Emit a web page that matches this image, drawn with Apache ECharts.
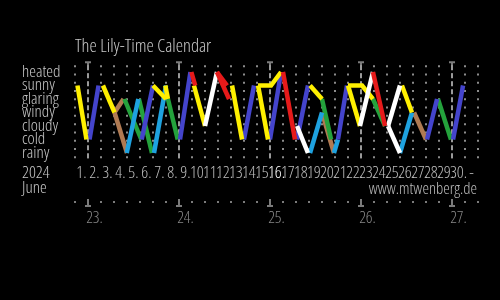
<!DOCTYPE html>
<html><head><meta charset="utf-8">
<script src="https://cdn.jsdelivr.net/npm/echarts@6/dist/echarts.min.js"></script>
<style>html,body{margin:0;padding:0;background:#000;}#c{width:500px;height:300px;}</style>
</head><body><div id="c"></div>
<script>
const chartTitle = 'The Lily-Time Calendar';
const yearLabel = '2024';
const monthLabel = 'June';
const creditLabel = 'www.mtwenberg.de';
const states = ['rainy','cold','cloudy','windy','glaring','sunny','heated'];
const dayLabels = ['1.','2.','3.','4.','5.','6.','7.','8.','9.','10.','11.','12.','13.','14.','15.','16.','17.','18.','19.','20.','21.','22.','23.','24.','25.','26.','27.','28.','29.','30.','-'];
const highlightDay = '16.';
const weekStartDays = [2, 9, 16, 23, 30];
const weekNumbers = [23, 24, 25, 26, 27];

// tracks: polylines of [time in days since June 1 00:00, weather state]
const sunTracks = [
  [[0.19,'sunny'],[0.88,'cold']],
  [[2.15,'sunny'],[3.04,'windy']],
  [[6.0,'sunny'],[7.0,'glaring']],
  [[6.95,'sunny'],[7.15,'glaring']],
  [[9.15,'sunny'],[10.0,'cloudy']],
  [[12.08,'sunny'],[12.85,'cold']],
  [[14.08,'sunny'],[14.85,'cold']],
  [[14.08,'sunny'],[15.08,'sunny'],[15.85,'heated']],
  [[18.08,'sunny'],[19.0,'glaring']],
  [[21.0,'sunny'],[21.92,'cloudy']],
  [[21.0,'sunny'],[22.08,'sunny'],[22.92,'glaring']],
  [[25.15,'sunny'],[25.92,'windy']]
];
const coldTracks = [
  [[1.12,'cold'],[1.81,'sunny']],
  [[5.13,'cold'],[6.0,'sunny']],
  [[8.08,'cold'],[8.88,'heated']],
  [[13.0,'cold'],[13.77,'sunny']],
  [[15.0,'cold'],[15.85,'heated']],
  [[17.08,'cold'],[17.92,'sunny']],
  [[20.23,'cold'],[20.92,'sunny']],
  [[27.08,'cold'],[27.85,'glaring']],
  [[29.08,'cold'],[29.85,'sunny']]
];
const heatTracks = [
  [[8.95,'heated'],[9.25,'sunny']],
  [[10.92,'heated'],[11.7,'sunny']],
  [[10.92,'heated'],[11.85,'glaring']],
  [[16.0,'heated'],[16.92,'cold']],
  [[22.92,'heated'],[23.85,'cloudy']]
];
const glareTracks = [
  [[10.0,'cloudy'],[10.92,'heated']],
  [[17.08,'cloudy'],[17.92,'rainy']],
  [[21.92,'cloudy'],[22.92,'heated']],
  [[24.08,'cloudy'],[25.0,'sunny']],
  [[24.08,'cloudy'],[25.0,'rainy']]
];
const windTracks = [
  [[3.8,'glaring'],[5.1,'cold']],
  [[4.92,'glaring'],[5.92,'rainy']],
  [[7.15,'glaring'],[7.9,'cold']],
  [[19.0,'glaring'],[19.7,'cold']],
  [[22.92,'glaring'],[23.85,'cloudy']],
  [[27.92,'glaring'],[28.92,'cold']]
];
const rainTracks = [
  [[3.98,'rainy'],[4.87,'glaring']],
  [[6.08,'rainy'],[7.0,'sunny']],
  [[18.08,'rainy'],[19.0,'windy']],
  [[19.92,'rainy'],[20.23,'cold']],
  [[25.0,'rainy'],[25.92,'windy']]
];
const cloudTracks = [
  [[3.04,'windy'],[3.73,'glaring']],
  [[3.04,'windy'],[4.0,'rainy']],
  [[19.0,'windy'],[19.92,'rainy']],
  [[26.08,'windy'],[27.0,'cold']]
];

const FONT = "'Open Sans', sans-serif";
const FW = '300 condensed';
const groups = [
  {tracks: cloudTracks, color: '#b07a52'},
  {tracks: windTracks, color: '#24a23c'},
  {tracks: rainTracks, color: '#1ea2e0'},
  {tracks: coldTracks, color: '#4444cc'},
  {tracks: sunTracks, color: '#fff000'},
  {tracks: glareTracks, color: '#ffffff'},
  {tracks: heatTracks, color: '#e61a1a'}
];

const series = [];
weekStartDays.forEach(d => {
  series.push({type:'line', xAxisIndex:0, yAxisIndex:1, silent:true, symbol:'none', animation:false,
    data:[[d-1, 6.5],[d-1, -0.5]], lineStyle:{color:'#9a9a9a', width:2, type:[5,3]}, z:1});
});
series.push({type:'scatter', xAxisIndex:0, yAxisIndex:1, silent:true, animation:false, clip:false,
  symbol:'path://M0,0H6V2H4V6H2V2H0Z', symbolSize:[6,6], symbolOffset:[0,-1],
  itemStyle:{color:'#9a9a9a'}, data: weekStartDays.map(d => [d-1, 6.5]), z:2});

groups.forEach(g => {
  g.tracks.forEach(tr => {
    series.push({type:'line', xAxisIndex:0, yAxisIndex:1, silent:true, animation:false,
      symbol:'none', showSymbol:false,
      data: tr.map(p => [p[0], states.indexOf(p[1])]),
      lineStyle:{color:g.color, width:4.5, cap:'butt', join:'miter'}, z:5});
  });
});

const dotDays = [];
for (let i = 0; i <= 31; i++) if (!weekStartDays.includes(i+1)) dotDays.push([i, 0.5]);
series.push({type:'scatter', xAxisIndex:2, yAxisIndex:2, silent:true, animation:false, clip:false,
  symbol:'rect', symbolSize:2, itemStyle:{color:'#9a9a9a'}, data: dotDays});
series.push({type:'scatter', xAxisIndex:2, yAxisIndex:2, silent:true, animation:false, clip:false,
  symbol:'path://M2,0H4V6H6V8H0V6H2Z', symbolSize:[6,8], symbolOffset:[0,1],
  itemStyle:{color:'#9a9a9a'},
  data: weekStartDays.map((d,i) => [d-1, 0.5, weekNumbers[i]]),
  label:{show:true, position:'bottom', distance:3, offset:[6.5,0], color:'#aaaaaa',
    fontFamily:FONT, fontWeight:FW, fontSize:16.5, formatter: p => p.data[2] + '.'}});

const option = {
  backgroundColor:'#000',
  animation:false,
  title:{text:chartTitle, left:75, top:37, padding:0,
    textStyle:{color:'#c8c8c8', fontFamily:FONT, fontSize:18.5, fontWeight:FW}},
  grid:[
    {left:75, top:65.25, width:403, height:94.5},
    {left:75, top:197, width:403, height:10}
  ],
  xAxis:[
    {type:'value', gridIndex:0, min:0, max:31, interval:1,
      axisLine:{show:false}, axisTick:{show:false}, axisLabel:{show:false},
      splitLine:{show:true, lineStyle:{color:'#8c8c8c', width:2, type:[2,6.27]}}},
    {type:'category', gridIndex:0, data:dayLabels, boundaryGap:true, position:'bottom',
      axisLine:{show:false}, axisTick:{show:false}, splitLine:{show:false},
      axisLabel:{interval:0, margin:5, color:'#bdbdbd', fontFamily:FONT, fontWeight:FW, fontSize:17,
        formatter: v => v === highlightDay ? '{hl|' + v + '}' : v,
        rich:{hl:{color:'#ffffff', fontFamily:FONT, fontWeight:FW, fontSize:17}}}},
    {type:'value', gridIndex:1, min:0, max:31, show:false}
  ],
  yAxis:[
    {type:'category', gridIndex:0, data:states, boundaryGap:true,
      axisLine:{show:false}, axisTick:{show:false}, splitLine:{show:false},
      axisLabel:{interval:0, align:'left', margin:53, color:'#c8c8c8', fontFamily:FONT, fontWeight:FW, fontSize:17}},
    {type:'value', gridIndex:0, min:-0.5, max:6.5, show:false},
    {type:'value', gridIndex:1, min:0, max:1, show:false}
  ],
  graphic:[
    {type:'text', x:22, y:173, style:{text:yearLabel, fill:'#c8c8c8', font:'300 condensed 17px ' + FONT, textVerticalAlign:'middle'}},
    {type:'text', x:22, y:188.5, style:{text:monthLabel, fill:'#c8c8c8', font:'300 condensed 17px ' + FONT, textVerticalAlign:'middle'}},
    {type:'text', x:477, y:189, style:{text:creditLabel, fill:'#bdbdbd', font:'300 condensed 16.5px ' + FONT, textAlign:'right', textVerticalAlign:'middle'}}
  ],
  series: series
};
const chart = echarts.init(document.getElementById('c'), null, {renderer:'canvas'});
chart.setOption(option);
</script></body></html>
